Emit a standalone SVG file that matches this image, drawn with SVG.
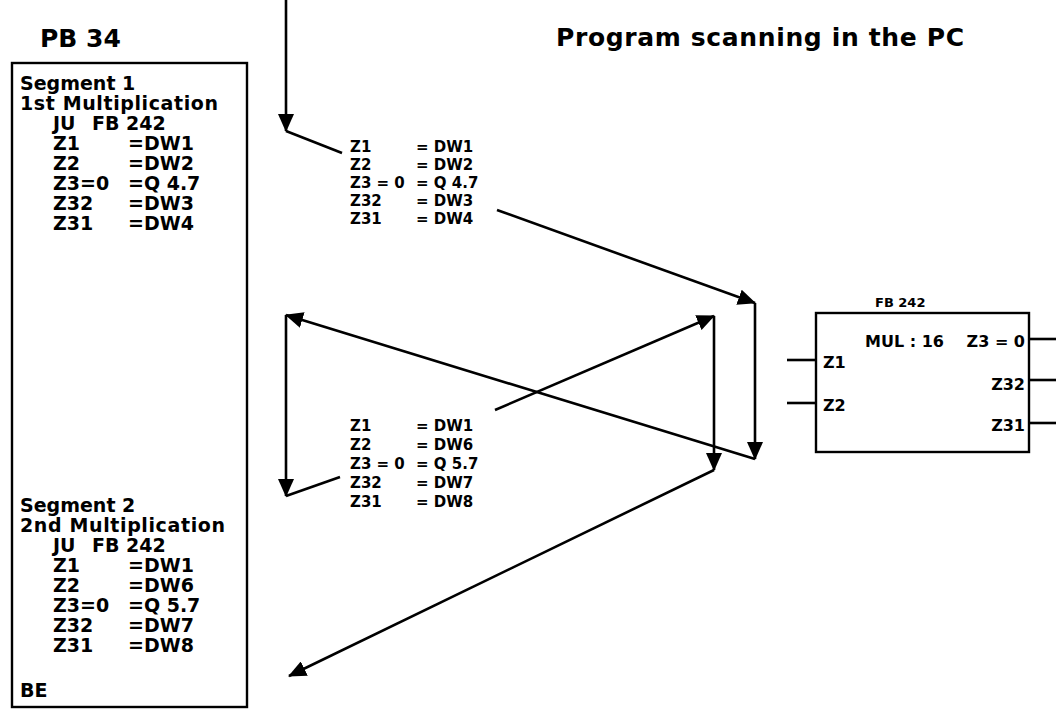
<svg xmlns="http://www.w3.org/2000/svg" width="1056" height="711" viewBox="0 0 1056 711">
<style>
text{font-family:"DejaVu Sans","Open Sans","Liberation Sans",sans-serif;font-weight:bold;fill:#000}
.t{font-size:25px}
.b{font-size:19px}
.m{font-size:15px}
.f{font-size:16px}
.s{font-size:13px}
.ln{stroke:#000;stroke-width:2.6;fill:none}
.box{stroke:#000;stroke-width:2.4;fill:#fff}
</style>
<defs>
<marker id="ah" markerUnits="userSpaceOnUse" markerWidth="18" markerHeight="16" refX="17" refY="8" orient="auto" viewBox="0 0 18 16">
<path d="M0,0 L18,8 L0,16 Z" fill="#000"/>
</marker>
</defs>
<rect width="1056" height="711" fill="#fff"/>
<text class="t" x="40" y="47">PB 34</text>
<text class="t" x="556" y="46" textLength="408">Program scanning in the PC</text>

<g id="pb34">
<rect class="box" x="12" y="63" width="235" height="644"/>
<text class="b" x="20" y="90">Segment 1</text>
<text class="b" x="20" y="110" textLength="198">1st Multiplication</text>
<text class="b" x="53" y="130">JU</text><text class="b" x="92" y="130">FB 242</text>
<text class="b" x="53" y="150">Z1</text><text class="b" x="128" y="150">=DW1</text>
<text class="b" x="53" y="170">Z2</text><text class="b" x="128" y="170">=DW2</text>
<text class="b" x="53" y="190">Z3=0</text><text class="b" x="128" y="190">=Q 4.7</text>
<text class="b" x="53" y="210">Z32</text><text class="b" x="128" y="210">=DW3</text>
<text class="b" x="53" y="230">Z31</text><text class="b" x="128" y="230">=DW4</text>
<text class="b" x="20" y="512">Segment 2</text>
<text class="b" x="20" y="532" textLength="205">2nd Multiplication</text>
<text class="b" x="53" y="552">JU</text><text class="b" x="92" y="552">FB 242</text>
<text class="b" x="53" y="572">Z1</text><text class="b" x="128" y="572">=DW1</text>
<text class="b" x="53" y="592">Z2</text><text class="b" x="128" y="592">=DW6</text>
<text class="b" x="53" y="612">Z3=0</text><text class="b" x="128" y="612">=Q  5.7</text>
<text class="b" x="53" y="632">Z32</text><text class="b" x="128" y="632">=DW7</text>
<text class="b" x="53" y="652">Z31</text><text class="b" x="128" y="652">=DW8</text>
<text class="b" x="20" y="697">BE</text>
</g>

<g id="call1">
<text class="m" x="350" y="152">Z1</text><text class="m" x="416" y="152">= DW1</text>
<text class="m" x="350" y="170">Z2</text><text class="m" x="416" y="170">= DW2</text>
<text class="m" x="350" y="188">Z3 = 0</text><text class="m" x="416" y="188">= Q 4.7</text>
<text class="m" x="350" y="206">Z32</text><text class="m" x="416" y="206">= DW3</text>
<text class="m" x="350" y="224">Z31</text><text class="m" x="416" y="224">= DW4</text>
</g>

<g id="call2">
<text class="m" x="350" y="431">Z1</text><text class="m" x="416" y="431">= DW1</text>
<text class="m" x="350" y="450">Z2</text><text class="m" x="416" y="450">= DW6</text>
<text class="m" x="350" y="469">Z3 = 0</text><text class="m" x="416" y="469">= Q 5.7</text>
<text class="m" x="350" y="488">Z32</text><text class="m" x="416" y="488">= DW7</text>
<text class="m" x="350" y="507">Z31</text><text class="m" x="416" y="507">= DW8</text>
</g>

<g id="fb242">
<text class="s" x="875" y="307">FB 242</text>
<rect class="box" x="816" y="313" width="213" height="139"/>
<text class="f" x="944" y="347" text-anchor="end">MUL : 16</text>
<text class="f" x="1025" y="347" text-anchor="end">Z3 = 0</text>
<text class="f" x="823" y="368">Z1</text>
<text class="f" x="823" y="411">Z2</text>
<text class="f" x="1025" y="390" text-anchor="end">Z32</text>
<text class="f" x="1025" y="431" text-anchor="end">Z31</text>
<line class="ln" x1="787" y1="360" x2="816" y2="360"/>
<line class="ln" x1="787" y1="403" x2="816" y2="403"/>
<line class="ln" x1="1029" y1="339" x2="1056" y2="339"/>
<line class="ln" x1="1029" y1="380" x2="1056" y2="380"/>
<line class="ln" x1="1029" y1="423" x2="1056" y2="423"/>
</g>

<g id="connectors">
<line class="ln" x1="286" y1="0" x2="286" y2="131" marker-end="url(#ah)"/>
<line class="ln" x1="286" y1="131" x2="342" y2="153"/>
<line class="ln" x1="497" y1="210" x2="755" y2="303" marker-end="url(#ah)"/>
<line class="ln" x1="755" y1="303" x2="755" y2="459" marker-end="url(#ah)"/>
<line class="ln" x1="755" y1="459" x2="286" y2="315" marker-end="url(#ah)"/>
<line class="ln" x1="286" y1="315" x2="286" y2="496" marker-end="url(#ah)"/>
<line class="ln" x1="286" y1="496" x2="340" y2="477"/>
<line class="ln" x1="495" y1="410" x2="714" y2="316" marker-end="url(#ah)"/>
<line class="ln" x1="714" y1="316" x2="714" y2="470" marker-end="url(#ah)"/>
<line class="ln" x1="714" y1="470" x2="289" y2="676" marker-end="url(#ah)"/>
</g>
</svg>
